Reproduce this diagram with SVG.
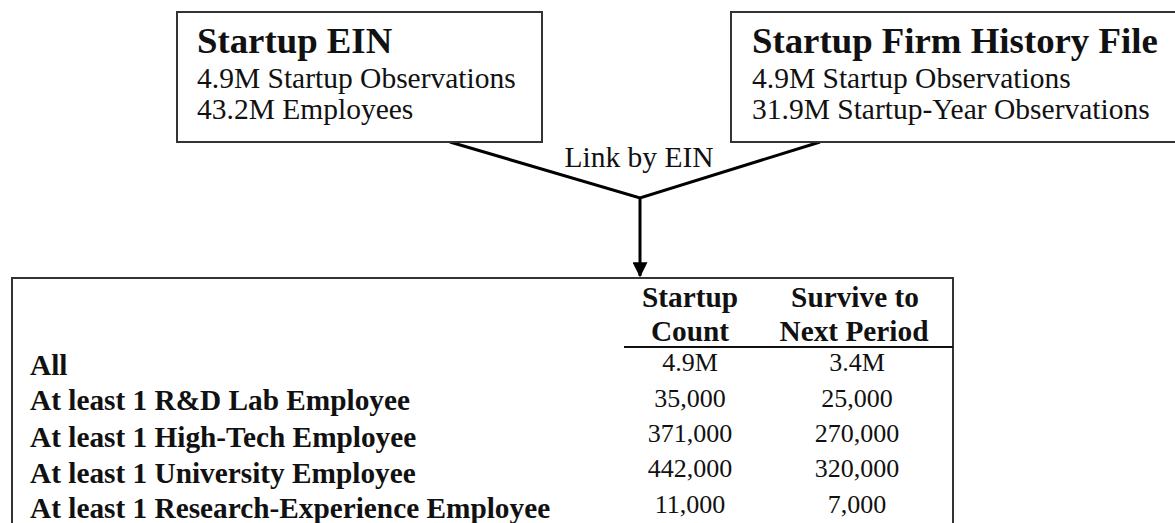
<svg xmlns="http://www.w3.org/2000/svg" width="1175" height="523" viewBox="0 0 1175 523">
<defs>
<style>
.box{fill:#fff;stroke:#333;stroke-width:2}
.t{font-family:"Liberation Serif","Times New Roman",serif;fill:#111}
.title{font-size:36.8px;font-weight:bold}
.body{font-size:29.5px}
.lbl{font-size:29.3px;font-weight:bold}
.val{font-size:26px;text-anchor:middle}
.hdr{font-size:29.3px;font-weight:bold;text-anchor:middle}
.conn{stroke:#000;stroke-width:3;fill:none}
</style>
<marker id="arr" markerWidth="5" markerHeight="5" refX="4.6" refY="2.5" orient="auto" markerUnits="strokeWidth">
<path d="M0,0 L5,2.5 L0,5 Z" fill="#000"/>
</marker>
</defs>
<rect width="1175" height="523" fill="#fff"/>
<g id="connectors">
<polyline class="conn" points="450,142 640,198 820,142"/>
<line class="conn" x1="640" y1="198" x2="640" y2="276" marker-end="url(#arr)"/>
<text class="t body" x="639" y="167" text-anchor="middle">Link by EIN</text>
</g>
<g id="startup-ein">
<rect class="box" x="177" y="12" width="365" height="130"/>
<text class="t title" x="197" y="53">Startup EIN</text>
<text class="t body" x="197" y="88">4.9M Startup Observations</text>
<text class="t body" x="197" y="119">43.2M Employees</text>
</g>
<g id="firm-history">
<rect class="box" x="731" y="12" width="450" height="130"/>
<text class="t title" x="752" y="53">Startup Firm History File</text>
<text class="t body" x="752" y="88">4.9M Startup Observations</text>
<text class="t body" x="752" y="119">31.9M Startup-Year Observations</text>
</g>
<g id="table">
<rect class="box" x="12" y="278" width="941" height="260"/>
<line x1="624" y1="347" x2="953" y2="347" stroke="#111" stroke-width="2"/>
<text class="t hdr" x="690" y="307">Startup</text>
<text class="t hdr" x="690" y="341">Count</text>
<text class="t hdr" x="855" y="307">Survive to</text>
<text class="t hdr" x="854" y="341">Next Period</text>
<text class="t lbl" x="30" y="375">All</text>
<text class="t lbl" x="30" y="410">At least 1 R&amp;D Lab Employee</text>
<text class="t lbl" x="30" y="447">At least 1 High-Tech Employee</text>
<text class="t lbl" x="30" y="483">At least 1 University Employee</text>
<text class="t lbl" x="30" y="518">At least 1 Research-Experience Employee</text>
<text class="t val" x="690" y="371">4.9M</text>
<text class="t val" x="690" y="407">35,000</text>
<text class="t val" x="690" y="442">371,000</text>
<text class="t val" x="690" y="477">442,000</text>
<text class="t val" x="690" y="513">11,000</text>
<text class="t val" x="857" y="371">3.4M</text>
<text class="t val" x="857" y="407">25,000</text>
<text class="t val" x="857" y="442">270,000</text>
<text class="t val" x="857" y="477">320,000</text>
<text class="t val" x="857" y="513">7,000</text>
</g>
</svg>
